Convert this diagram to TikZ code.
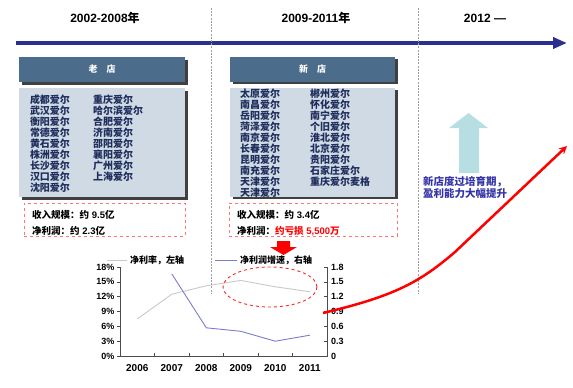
\documentclass[tikz,border=0pt]{standalone}
\usepackage{fontspec}
\setmainfont{Liberation Sans}
\newfontfamily\cjk{Noto Sans CJK SC}
\usepackage{tikz}
\usetikzlibrary{positioning}
\usetikzlibrary{matrix}
\usetikzlibrary{arrows,arrows.meta}
\usetikzlibrary{shadows}
\tikzset{>=stealth}
\definecolor{timeblue}{HTML}{2B2F8F}
\definecolor{headblue}{HTML}{4B6C8A}
\definecolor{listgray}{HTML}{CFDAE4}
\definecolor{listtext}{HTML}{1F2D5C}
\definecolor{upcyan}{HTML}{B7DFE3}
\definecolor{noteblue}{HTML}{3434A8}
\definecolor{rateblue}{HTML}{7B7BD0}
\definecolor{rategray}{HTML}{C8C8C8}
\tikzset{
  boxshadow/.style={drop shadow={shadow xshift=2.5pt,shadow yshift=-2.5pt,opacity=1,fill=black!75}},
  headbox/.style={boxshadow,fill=headblue,text=white,font=\cjk\bfseries\fontsize{9}{10}\selectfont,minimum width=166pt,minimum height=25pt},
  listbox/.style={boxshadow,fill=listgray,minimum width=166pt,minimum height=109pt},
  storelist/.style={matrix of nodes,inner sep=0pt,row sep=0pt,
    nodes={inner sep=0pt,anchor=west,text height=8.5pt,text depth=2.5pt,text=listtext,font=\cjk\bfseries\fontsize{10}{11}\selectfont}},
  infobox/.style={draw=red!55,dashed,line width=0.8pt,minimum width=161pt,minimum height=33pt,anchor=north west},
  infotext/.style={inner sep=0pt,font=\bfseries\fontsize{9.5}{11}\selectfont},
  yearlabel/.style={font=\bfseries\fontsize{12}{14}\selectfont},
  eraline/.style={draw=gray!75,dash pattern=on 2pt off 1.2pt,line width=0.7pt},
  axisline/.style={draw=black!70,line width=0.6pt},
  ticklabel/.style={inner sep=0pt,font=\bfseries\fontsize{9}{10}\selectfont},
  legendtext/.style={inner sep=0pt,anchor=west,font=\cjk\bfseries\fontsize{9}{10}\selectfont},
  growline/.style={draw=red,line width=2.5pt,->}
}

\begin{document}
\begin{tikzpicture}[x=1pt,y=-1pt]
  \useasboundingbox (0,0) rectangle (573,388);

  % time line and eras
  \coordinate (tl-start) at (16,43);
  \coordinate (tl-end) at (567,43);
  \draw[timeblue,line width=4pt,-{Triangle[length=14pt,width=11pt]}] (tl-start) -- (tl-end);
  \draw[eraline] (211,8) -- (211,293);
  \draw[eraline] (418,8) -- (418,293);
  \node (yr-old) [yearlabel] at (105,18) {2002-2008{\cjk 年}};
  \node (yr-new) [yearlabel] at (316,18) {2009-2011{\cjk 年}};
  \node (yr-next) [yearlabel] at (485,18) {2012 —};

  % old stores
  \node (oldhead) [headbox] at (102,69.5) {老\quad 店};
  \node (oldbody) [listbox,below=6pt of oldhead] {};
  \matrix (oldlist) [storelist,column sep=23pt,anchor=north west] at ([xshift=11pt,yshift=-6.5pt]oldbody.north west) {
    成都爱尔 & 重庆爱尔 \\
    武汉爱尔 & 哈尔滨爱尔 \\
    衡阳爱尔 & 合肥爱尔 \\
    常德爱尔 & 济南爱尔 \\
    黄石爱尔 & 邵阳爱尔 \\
    株洲爱尔 & 襄阳爱尔 \\
    长沙爱尔 & 广州爱尔 \\
    汉口爱尔 & 上海爱尔 \\
    沈阳爱尔 & \\
  };

  % new stores
  \node (newhead) [headbox,minimum width=165pt] at (312.5,69) {新\quad 店};
  \node (newbody) [listbox,minimum width=165pt,below=6pt of newhead] {};
  \matrix (newlist) [storelist,column sep=30pt,anchor=north west] at ([xshift=10pt,yshift=-1.5pt]newbody.north west) {
    太原爱尔 & 郴州爱尔 \\
    南昌爱尔 & 怀化爱尔 \\
    岳阳爱尔 & 南宁爱尔 \\
    菏泽爱尔 & 个旧爱尔 \\
    南京爱尔 & 淮北爱尔 \\
    长春爱尔 & 北京爱尔 \\
    昆明爱尔 & 贵阳爱尔 \\
    南充爱尔 & 石家庄爱尔 \\
    天津爱尔 & 重庆爱尔麦格 \\
    天津爱尔 & \\
  };

  % revenue and profit
  \node (oldinfo) [infobox] at (24,203) {};
  \node (oldrev) [infotext,anchor=west] at ([xshift=8pt,yshift=-12pt]oldinfo.north west) {{\cjk 收入规模：约} 9.5{\cjk 亿}};
  \node (oldprofit) [infotext,anchor=west] at ([yshift=-16pt]oldrev.west) {{\cjk 净利润：约} 2.3{\cjk 亿}};
  \node (newinfo) [infobox,minimum width=168pt] at (229,203) {};
  \node (newrev) [infotext,anchor=west] at ([xshift=8pt,yshift=-12pt]newinfo.north west) {{\cjk 收入规模：约} 3.4{\cjk 亿}};
  \node (newprofit) [infotext,anchor=west] at ([yshift=-16pt]newrev.west) {{\cjk 净利润：}\textcolor{red}{{\cjk 约亏损} 5,500{\cjk 万}}};
  \fill[red] (277,241) -- (290,241) -- (290,247) -- (297,247) -- (283.5,255) -- (270,247) -- (277,247) -- cycle;

  % chart
  \draw[axisline] (120,267) -- (120,356) -- (327,356) -- (327,267);
  \foreach \ty in {267,281.8,296.7,311.5,326.3,341.2,356} {
    \draw[axisline] (117,\ty) -- (120,\ty);
    \draw[axisline] (324,\ty) -- (327,\ty);
  }
  \foreach \tx in {154.5,189,223.5,258,292.5} \draw[axisline] (\tx,356) -- (\tx,353);
  \node (l18) [ticklabel,anchor=east] at (114.5,267) {18\%};
  \node (l15) [ticklabel,anchor=east] at (114.5,281.8) {15\%};
  \node (l12) [ticklabel,anchor=east] at (114.5,296.7) {12\%};
  \node (l9) [ticklabel,anchor=east] at (114.5,311.5) {9\%};
  \node (l6) [ticklabel,anchor=east] at (114.5,326.3) {6\%};
  \node (l3) [ticklabel,anchor=east] at (114.5,341.2) {3\%};
  \node (l0) [ticklabel,anchor=east] at (114.5,356) {0\%};
  \node (r18) [ticklabel,anchor=west] at (331,267) {1.8};
  \node (r15) [ticklabel,anchor=west] at (331,281.8) {1.5};
  \node (r12) [ticklabel,anchor=west] at (331,296.7) {1.2};
  \node (r9) [ticklabel,anchor=west] at (331,311.5) {0.9};
  \node (r6) [ticklabel,anchor=west] at (331,326.3) {0.6};
  \node (r3) [ticklabel,anchor=west] at (331,341.2) {0.3};
  \node (r0) [ticklabel,anchor=west] at (331,356) {0};
  \node (y2006) [ticklabel,font=\bfseries\fontsize{10}{11}\selectfont] at (137.3,368) {2006};
  \node (y2007) [ticklabel,font=\bfseries\fontsize{10}{11}\selectfont] at (171.8,368) {2007};
  \node (y2008) [ticklabel,font=\bfseries\fontsize{10}{11}\selectfont] at (206.3,368) {2008};
  \node (y2009) [ticklabel,font=\bfseries\fontsize{10}{11}\selectfont] at (240.8,368) {2009};
  \node (y2010) [ticklabel,font=\bfseries\fontsize{10}{11}\selectfont] at (275.3,368) {2010};
  \node (y2011) [ticklabel,font=\bfseries\fontsize{10}{11}\selectfont] at (309.8,368) {2011};
  \draw[rategray,line width=0.9pt] plot coordinates {(137.3,318.9) (171.8,294.2) (206.3,285.8) (240.8,280.4) (275.3,286.8) (309.8,291.7)};
  \draw[rateblue,line width=0.9pt] plot coordinates {(171.8,273.9) (206.3,327.8) (240.8,331.3) (275.3,341.2) (309.8,335.2)};
  \draw[rategray,line width=0.9pt] (107,260) -- (127,260);
  \node (leg-rate) [legendtext] at (130,260) {净利率，左轴};
  \draw[rateblue,line width=0.9pt] (215,260) -- (237,260);
  \node (leg-growth) [legendtext] at (240,260) {净利润增速，右轴};
  \draw[red!85,dashed,line width=0.9pt] (270,287) ellipse [x radius=47pt,y radius=20pt];

  % outlook
  \fill[upcyan] (459,173) -- (459,128) -- (449,128) -- (468.5,113) -- (488,128) -- (479,128) -- (479,173) -- cycle;
  \node (note) [inner sep=0pt,anchor=west,align=left,text=noteblue,font=\cjk\bfseries\fontsize{10.5}{12}\selectfont] at (423,187) {新店度过培育期，\\盈利能力大幅提升};
  \coordinate (growstart) at (323,313);
  \coordinate (growend) at (567,146);
  \draw[growline] (growstart) .. controls (395,296) and (420,282) .. (455,252) -- (growend);
\end{tikzpicture}
\end{document}
